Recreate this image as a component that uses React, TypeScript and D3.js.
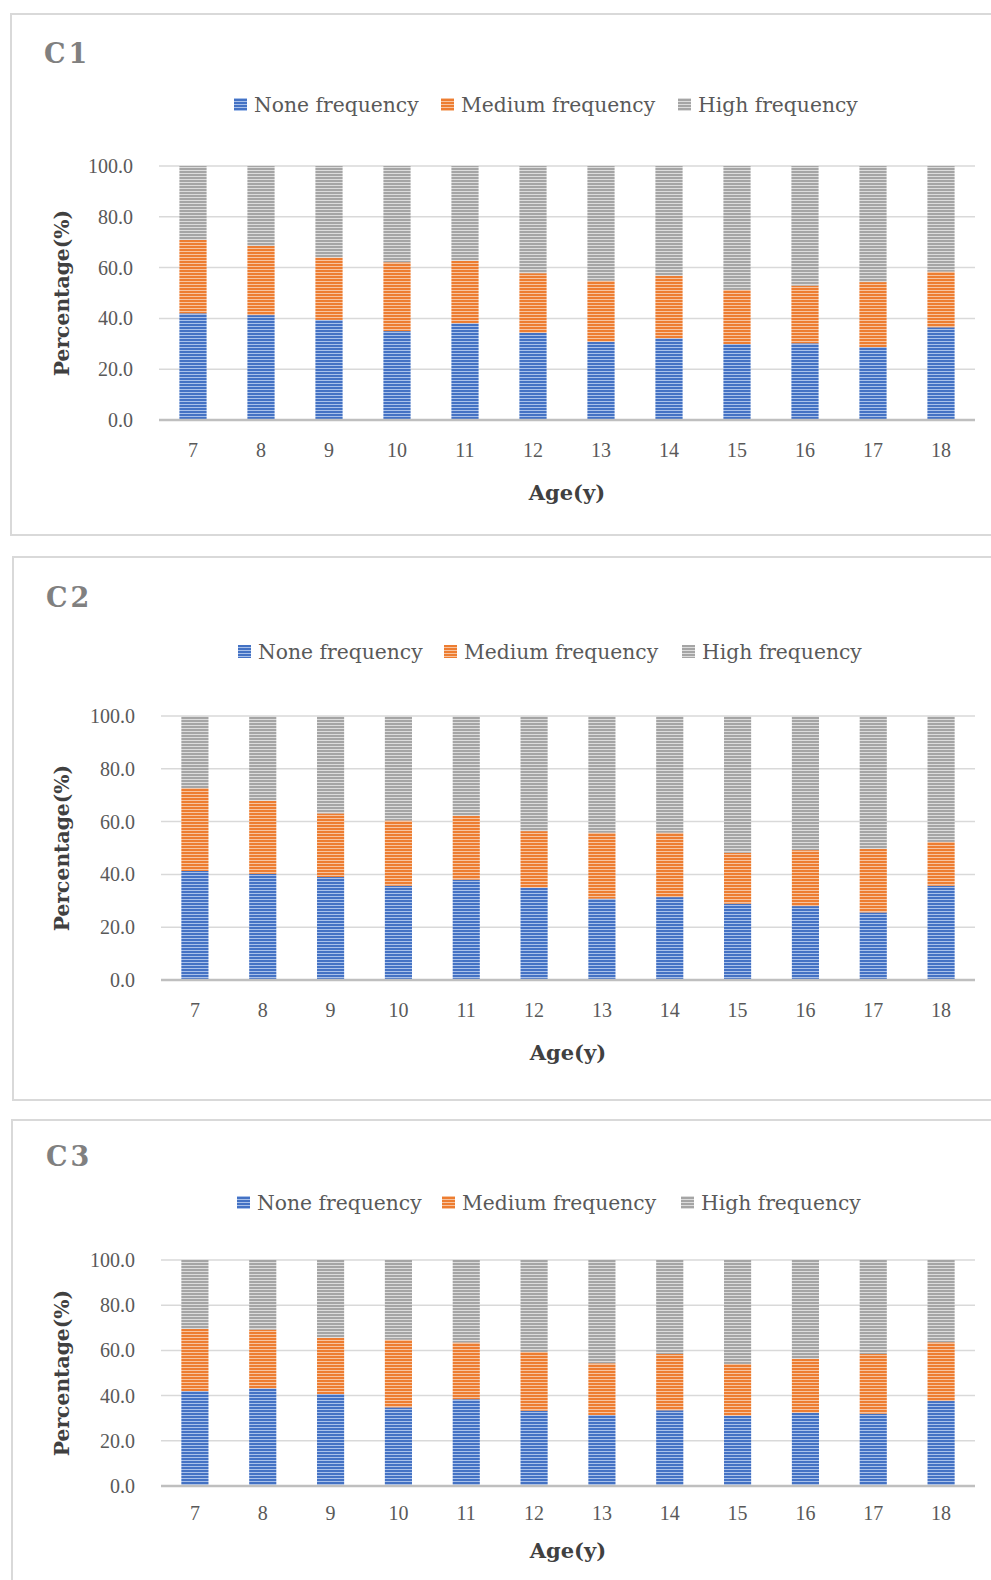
import React from 'react';
import * as d3 from 'd3';

const AGES = ['7', '8', '9', '10', '11', '12', '13', '14', '15', '16', '17', '18'];
const SERIES_NAMES = ['None frequency', 'Medium frequency', 'High frequency'];
const Y_TICKS = [0, 20, 40, 60, 80, 100];
const PANEL_TITLES = ['C1', 'C2', 'C3'];

const C1_NONE = [42.0, 41.3, 39.4, 35.0, 38.1, 34.3, 30.8, 32.2, 29.9, 30.2, 28.7, 36.5];
const C1_MEDIUM = [28.9, 27.2, 24.6, 27.1, 24.6, 23.5, 24.0, 24.6, 21.3, 22.7, 25.6, 21.9];
const C1_HIGH = [29.1, 31.5, 36.0, 37.9, 37.3, 42.2, 45.2, 43.2, 48.8, 47.1, 45.7, 41.6];

const C2_NONE = [41.3, 40.2, 39.0, 35.7, 38.0, 35.0, 30.8, 31.4, 28.9, 28.0, 25.6, 35.7];
const C2_MEDIUM = [31.4, 27.7, 24.1, 24.7, 24.2, 21.4, 25.0, 24.4, 19.3, 21.2, 24.1, 16.6];
const C2_HIGH = [27.3, 32.1, 36.9, 39.6, 37.8, 43.6, 44.2, 44.2, 51.8, 50.8, 50.3, 47.7];

const C3_NONE = [42.0, 43.2, 40.7, 34.8, 38.4, 33.3, 31.4, 33.5, 31.1, 32.4, 32.0, 37.6];
const C3_MEDIUM = [27.5, 26.0, 24.9, 29.9, 25.1, 26.0, 22.9, 24.9, 22.9, 23.9, 26.4, 26.0];
const C3_HIGH = [30.5, 30.8, 34.4, 35.3, 36.5, 40.7, 45.7, 41.6, 46.0, 43.7, 41.6, 36.4];

const PANEL_DATA = [
  [C1_NONE, C1_MEDIUM, C1_HIGH],
  [C2_NONE, C2_MEDIUM, C2_HIGH],
  [C3_NONE, C3_MEDIUM, C3_HIGH],
];

const KEYS = ['none', 'medium', 'high'];
const BASE_COLORS = ['#4472c4', '#ed7d31', '#a5a5a5'];
const LIGHT_COLORS = ['#a9c1ea', '#f7c4a0', '#dcdcdc'];

const LAYOUTS = [
  { bx: 11, by: 14, bh: 521, tx: 44, ty: 63, left: 159, right: 975, top: 166, bottom: 420, ly: 105, lx: [234, 441, 678], ytx: 133, ylx: 69, xty: 450, xly: 492 },
  { bx: 13, by: 557, bh: 543, tx: 46, ty: 607, left: 161, right: 975, top: 716, bottom: 980, ly: 652, lx: [238, 444, 682], ytx: 135, ylx: 69, xty: 1010, xly: 1052 },
  { bx: 12, by: 1120, bh: 520, tx: 46, ty: 1166, left: 161, right: 975, top: 1260, bottom: 1486, ly: 1203, lx: [237, 442, 681], ytx: 135, ylx: 69, xty: 1513, xly: 1550 },
];

const SERIF = "'DejaVu Serif', 'Liberation Serif', serif";
const TICK_FONT = "'Liberation Serif', 'DejaVu Serif', serif";

function Panel({ idx }: { idx: number }) {
  const L = LAYOUTS[idx];
  const series = PANEL_DATA[idx];
  const rows = AGES.map((age, i) => ({ age, none: series[0][i], medium: series[1][i], high: series[2][i] }));
  const stacked = d3.stack<any>().keys(KEYS)(rows);
  const x = d3.scaleBand().domain(AGES).range([L.left, L.right]).paddingInner(0.6).paddingOuter(0.3);
  const y = d3.scaleLinear().domain([0, 100]).range([L.bottom, L.top]);
  const cx = (L.left + L.right) / 2;
  const cy = (L.top + L.bottom) / 2;
  return (
    <g>
      <rect x={L.bx} y={L.by} width={1100} height={L.bh} fill="#ffffff" stroke="#d9d9d9" strokeWidth={2} />
      <text x={L.tx} y={L.ty} fontFamily={SERIF} fontWeight="bold" fontSize={27} fill="#808080" letterSpacing={3}>
        {PANEL_TITLES[idx]}
      </text>
      {SERIES_NAMES.map((name, s) => (
        <g key={name}>
          <rect x={L.lx[s]} y={L.ly - 7} width={13} height={13} fill={`url(#pat${s})`} />
          <text x={L.lx[s] + 20} y={L.ly} dominantBaseline="central" fontFamily={SERIF} fontSize={20.3} fill="#595959">
            {name}
          </text>
        </g>
      ))}
      {Y_TICKS.filter((t) => t > 0).map((t) => (
        <line key={t} x1={L.left} x2={L.right} y1={y(t)} y2={y(t)} stroke="#d9d9d9" strokeWidth={1.5} />
      ))}
      {Y_TICKS.map((t) => (
        <text key={t} x={L.ytx} y={y(t)} textAnchor="end" dominantBaseline="central" fontFamily={TICK_FONT} fontSize={20} fill="#595959">
          {d3.format('.1f')(t)}
        </text>
      ))}
      {stacked.map((layer, s) => (
        <g key={layer.key}>
          {layer.map((d: any) => (
            <rect
              key={d.data.age}
              x={x(d.data.age)}
              y={y(d[1])}
              width={x.bandwidth()}
              height={y(d[0]) - y(d[1])}
              fill={`url(#pat${s})`}
            />
          ))}
        </g>
      ))}
      <line x1={L.left} x2={L.right} y1={y(0)} y2={y(0)} stroke="#bfbfbf" strokeWidth={2.5} />
      {AGES.map((a) => (
        <text key={a} x={(x(a) as number) + x.bandwidth() / 2} y={L.xty} textAnchor="middle" dominantBaseline="central" fontFamily={TICK_FONT} fontSize={20} fill="#595959">
          {a}
        </text>
      ))}
      <text x={cx} y={L.xly} textAnchor="middle" dominantBaseline="central" fontFamily={SERIF} fontWeight="bold" fontSize={21} fill="#404040">
        Age(y)
      </text>
      <text
        transform={`translate(${L.ylx},${cy}) rotate(-90)`}
        textAnchor="middle"
        fontFamily={SERIF}
        fontWeight="bold"
        fontSize={20.3}
        fill="#404040"
      >
        Percentage(%)
      </text>
    </g>
  );
}

export default function App() {
  return (
    <svg
      width={991}
      height={1580}
      viewBox="0 0 991 1580"
      style={{ position: 'absolute', left: 0, top: 0, display: 'block', background: '#ffffff' }}
    >
      <defs>
        {BASE_COLORS.map((c, s) => (
          <pattern key={s} id={`pat${s}`} patternUnits="userSpaceOnUse" width={6} height={3}>
            <rect x={0} y={0} width={6} height={3} fill={c} />
            <rect x={0} y={2} width={6} height={1} fill={LIGHT_COLORS[s]} />
          </pattern>
        ))}
      </defs>
      <rect x={0} y={0} width={991} height={1580} fill="#ffffff" />
      {PANEL_TITLES.map((t, i) => (
        <Panel key={t} idx={i} />
      ))}
    </svg>
  );
}
